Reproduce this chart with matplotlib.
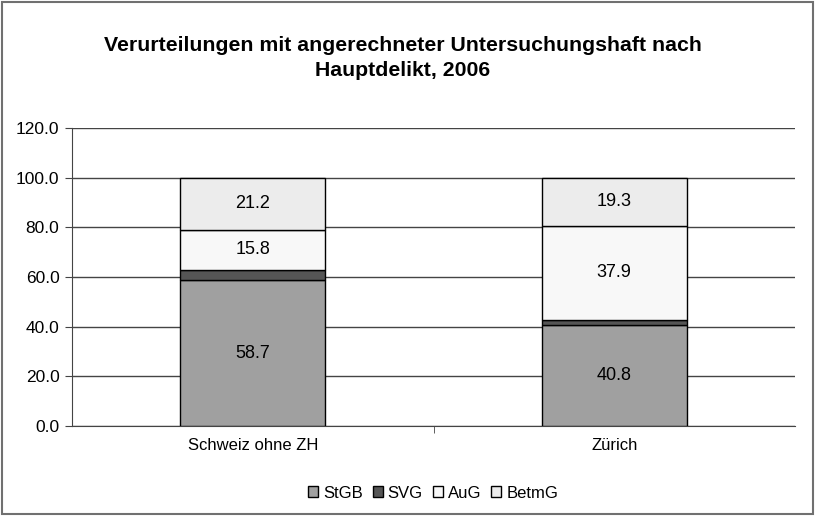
import matplotlib.pyplot as plt
import numpy as np

plt.rcParams['font.family'] = ['Liberation Sans', 'DejaVu Sans']

# data
regions = ['Schweiz ohne ZH', 'Zürich']
series = ['StGB', 'SVG', 'AuG', 'BetmG']
stgb = [58.7, 40.8]
svg = [4.3, 2.0]
aug = [15.8, 37.9]
betmg = [21.2, 19.3]
labelled = {'StGB': True, 'SVG': False, 'AuG': True, 'BetmG': True}

colors = ['#a0a0a0', '#555555', '#f8f8f8', '#ececec']

fig = plt.figure(figsize=(8.15, 5.16), dpi=100)
ax = fig.add_axes([72/815, 1-426/516, (795-72)/815, (426-128)/516])

x = np.arange(len(regions))
bottom = np.zeros(len(regions))
for name, vals, col in zip(series, [stgb, svg, aug, betmg], colors):
    ax.bar(x, vals, 0.4, bottom=bottom, color=col, edgecolor='black',
           linewidth=1.0, label=name, zorder=3)
    if labelled[name]:
        for xi, b, v in zip(x, bottom, vals):
            ax.text(xi, b + v/2, '%.1f' % v, ha='center', va='center',
                    fontsize=13, zorder=4)
    bottom += vals

ax.set_xlim(-0.5, 1.5)
ax.set_ylim(0, 120)
ax.set_yticks(np.arange(0, 121, 20))
ax.set_yticklabels(['%.1f' % v for v in np.arange(0, 121, 20)], fontsize=12.5)
ax.set_xticks(x)
ax.set_xticklabels(regions, fontsize=12)
ax.set_xticks([0.5], minor=True)
ax.tick_params(axis='x', which='major', length=0, pad=9)
ax.tick_params(axis='x', which='minor', length=5, color='#444444')
ax.tick_params(axis='y', length=5, color='#444444', pad=4)
ax.grid(axis='y', color='#444444', linewidth=1.0, zorder=0)
for s in ['top', 'right']:
    ax.spines[s].set_visible(False)
ax.spines['left'].set_color('#444444')
ax.spines['bottom'].set_color('#444444')

fig.text(403/815, 1-58/516,
         'Verurteilungen mit angerechneter Untersuchungshaft nach\nHauptdelikt, 2006',
         fontsize=15.3, fontweight='bold', ha='center', va='center',
         linespacing=1.4)

fig.legend(loc='center', bbox_to_anchor=(433/815, 1-493/516), ncol=4, frameon=False,
           fontsize=12, handlelength=0.6, handleheight=0.6, handletextpad=0.3,
           columnspacing=0.6)

# outer chart border
fig.add_artist(plt.Rectangle((0.003, 0.003), 0.994, 0.994, transform=fig.transFigure,
                             fill=False, edgecolor='#707070', linewidth=1.5))

fig.savefig('out.png', dpi=100)
